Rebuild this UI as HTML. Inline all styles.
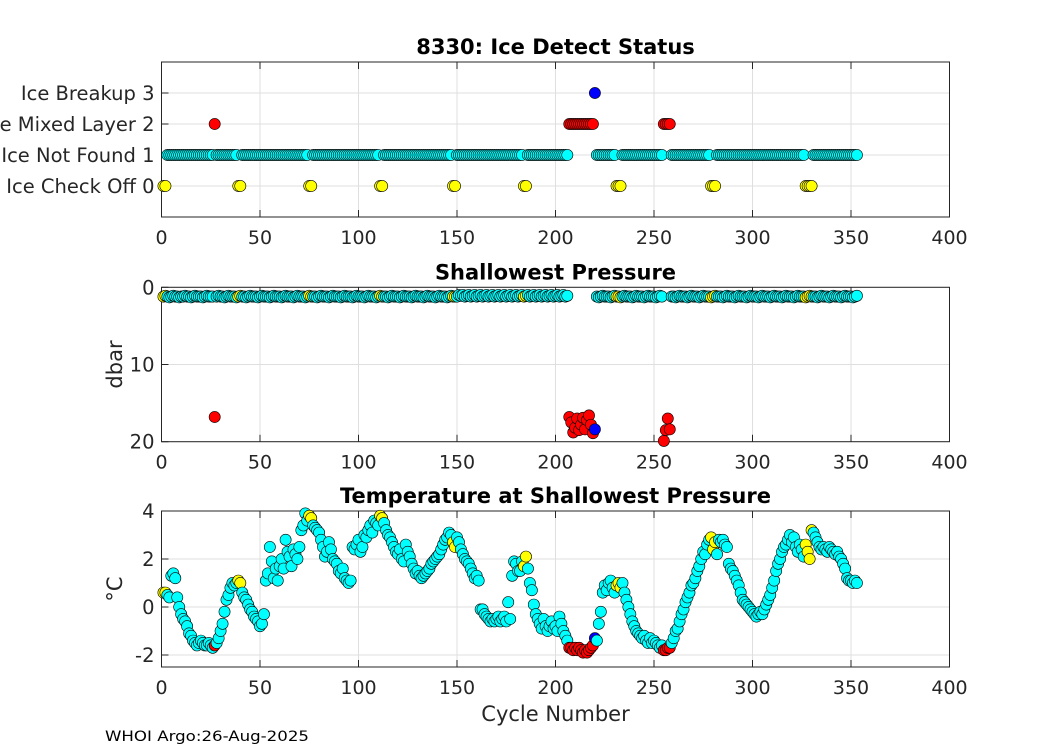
<!DOCTYPE html>
<html><head><meta charset="utf-8"><style>
body{margin:0;background:#fff;}
svg{display:block;font-family:"DejaVu Sans","Liberation Sans",sans-serif;}
</style></head><body>
<svg id="fig" width="1050" height="750" viewBox="0 0 1050 750"></svg>
<script>
const temps=[0.6,0.6,0.5,0.4,1.3,1.4,1.2,0.4,0.0,-0.3,
-0.5,-0.6,-0.8,-1.1,-1.2,-1.4,-1.5,-1.6,-1.5,-1.4,
-1.5,-1.6,-1.6,-1.5,-1.6,-1.7,-1.6,-1.5,-1.3,-1.0,
-0.7,-0.2,0.3,0.5,0.8,1.0,0.9,1.0,1.1,1.0,
0.6,0.4,0.3,0.1,-0.1,-0.2,-0.4,-0.5,-0.6,-0.8,
-0.7,-0.3,1.1,1.4,2.5,1.9,1.2,1.6,1.1,1.7,
2.0,1.6,2.8,2.3,2.1,1.7,2.4,2.2,2.0,2.5,
3.2,3.4,3.9,3.6,3.8,3.7,3.4,3.3,3.2,3.1,
2.8,2.5,2.1,2.3,2.7,2.4,2.0,1.9,1.8,1.5,
1.4,1.6,1.2,1.1,1.0,1.1,2.5,2.4,2.6,2.8,
2.3,2.5,3.0,2.9,3.2,3.4,3.1,3.6,3.5,3.4,
3.8,3.7,3.5,3.2,3.0,2.9,2.7,2.5,2.3,2.2,
2.4,2.0,1.9,2.6,2.3,2.1,1.8,1.6,1.4,1.5,
1.3,1.2,1.3,1.4,1.5,1.6,1.8,1.9,2.0,2.1,
2.2,2.4,2.6,2.8,2.9,3.1,3.0,2.7,2.5,2.9,
2.7,2.4,2.2,2.0,1.9,1.8,1.6,1.4,1.2,1.3,
1.1,-0.1,-0.1,-0.3,-0.4,-0.5,-0.6,-0.5,-0.6,-0.5,
-0.4,-0.6,-0.5,-0.4,-0.6,0.2,-0.5,1.3,1.9,1.8,
1.5,1.5,1.9,1.7,2.1,1.6,1.0,0.7,0.1,-0.3,
-0.5,-0.7,-0.9,-0.5,-0.8,-1.0,-0.8,-0.6,-0.9,-0.8,
-1.0,-0.4,-0.7,-1.0,-1.2,-1.4,-1.7,-1.7,-1.8,-1.7,
-1.8,-1.7,-1.8,-1.9,-1.8,-1.9,-1.8,-1.7,-1.6,-1.3,
-1.4,-0.7,-0.2,0.6,0.9,0.7,1.0,1.1,0.8,0.6,
0.9,1.0,0.8,1.0,0.6,0.3,0.0,-0.3,-0.6,-0.8,
-1.0,-1.1,-1.2,-1.3,-1.2,-1.4,-1.5,-1.3,-1.5,-1.4,
-1.5,-1.6,-1.7,-1.6,-1.8,-1.8,-1.7,-1.7,-1.5,-1.3,
-1.0,-0.9,-0.6,-0.3,-0.1,0.2,0.4,0.6,0.9,1.0,
1.2,1.5,1.7,2.0,2.3,2.2,2.6,2.8,2.9,2.4,
2.7,2.2,2.8,2.7,2.8,2.6,2.5,1.8,1.6,1.5,
1.3,1.1,0.9,0.6,0.3,0.2,0.1,0.0,-0.1,-0.2,
-0.3,-0.4,-0.3,-0.2,-0.3,-0.1,0.1,0.3,0.5,0.8,
1.1,1.5,1.8,2.0,2.3,2.5,2.6,2.8,3.0,2.7,
2.9,2.5,2.3,2.6,2.4,2.1,2.6,2.3,2.0,3.2,
3.1,2.9,2.7,2.5,2.4,2.5,2.4,2.3,2.5,2.4,
2.3,2.2,2.3,2.1,2.0,1.8,1.6,1.2,1.1,1.1,
1.0,1.1,1.0];
const pres=[1.2,1.1,1.2,1.3,1.2,1.1,1.2,1.2,1.3,1.2,
1.2,1.1,1.2,1.2,1.3,1.2,1.1,1.2,1.2,1.2,
1.3,1.2,1.1,1.2,1.2,1.2,16.8,1.2,1.1,1.2,
1.2,1.3,1.2,1.1,1.2,1.2,1.2,1.3,1.2,1.1,
1.2,1.2,1.3,1.2,1.1,1.2,1.2,1.2,1.3,1.2,
1.1,1.2,1.2,1.2,1.3,1.2,1.1,1.2,1.2,1.2,
1.3,1.2,1.1,1.2,1.2,1.2,1.3,1.2,1.1,1.2,
1.2,1.2,1.3,1.2,1.1,1.2,1.2,1.2,1.3,1.2,
1.1,1.2,1.2,1.2,1.3,1.2,1.1,1.2,1.2,1.2,
1.3,1.2,1.1,1.2,1.2,1.2,1.3,1.2,1.1,1.2,
1.2,1.2,1.3,1.2,1.1,1.2,1.2,1.2,1.3,1.2,
1.1,1.2,1.2,1.2,1.3,1.2,1.1,1.2,1.2,1.2,
1.3,1.2,1.1,1.2,1.2,1.2,1.3,1.2,1.1,1.2,
1.2,1.2,1.3,1.2,1.1,1.2,1.2,1.2,1.3,1.2,
1.1,1.2,1.2,1.2,1.3,1.2,1.1,1.2,1.2,1.2,
1.0,1.1,1.0,1.2,1.1,1.0,1.2,1.1,1.0,1.2,
1.1,1.0,1.2,1.1,1.0,1.2,1.1,1.0,1.2,1.1,
1.0,1.2,1.1,1.0,1.2,1.1,1.0,1.2,1.1,1.0,
1.2,1.1,1.0,1.2,1.1,1.0,1.2,1.1,1.0,1.2,
1.1,1.0,1.2,1.1,1.0,1.2,1.1,1.0,1.2,1.1,
1.0,1.2,1.1,1.0,1.2,1.1,16.8,17.5,18.8,18.2,
17.0,18.5,17.8,16.9,18.4,17.2,16.6,17.8,18.9,18.4,
1.2,1.3,1.2,1.1,1.2,1.2,1.2,1.3,1.2,1.1,
1.2,1.2,1.3,1.2,1.1,1.2,1.2,1.2,1.3,1.2,
1.1,1.2,1.2,1.2,1.3,1.2,1.1,1.2,1.2,1.2,
1.3,1.2,1.1,1.2,19.9,18.5,17.0,18.4,1.2,1.2,
1.3,1.2,1.1,1.2,1.2,1.2,1.3,1.2,1.1,1.2,
1.2,1.2,1.3,1.2,1.1,1.2,1.2,1.2,1.3,1.2,
1.1,1.2,1.2,1.2,1.3,1.2,1.1,1.2,1.2,1.2,
1.3,1.2,1.1,1.2,1.2,1.2,1.3,1.2,1.1,1.2,
1.2,1.2,1.3,1.2,1.1,1.2,1.2,1.2,1.3,1.2,
1.1,1.2,1.2,1.2,1.3,1.2,1.1,1.2,1.2,1.2,
1.3,1.2,1.1,1.2,1.2,1.2,1.3,1.2,1.1,1.2,
1.2,1.2,1.3,1.2,1.1,1.2,1.2,1.2,1.3,1.2,
1.1,1.2,1.2,1.2,1.3,1.2,1.1,1.2,1.2,1.2,
1.3,1.2,1.1];
const yellowIdx=[0,1,38,39,74,75,110,111,147,148,183,184,230,231,232,278,279,280,326,327,328,329];
const redIdx=[26,206,207,208,209,210,211,212,213,214,215,216,217,218,254,255,256,257];
const blueIdx=[219];
const xTicks=[0,50,100,150,200,250,300,350,400];
const statusTicks=[0,1,2,3];
const statusLabels=["Ice Check Off 0","Ice Not Found 1","Ice Mixed Layer 2","Ice Breakup 3"];
const presTicks=[0,10,20];
const tempTicks=[-2,0,2,4];

const NS="http://www.w3.org/2000/svg";
const svg=document.getElementById('fig');
function mk(tag,attrs,parent,text){const e=document.createElementNS(NS,tag);for(const k in attrs)e.setAttribute(k,attrs[k]);if(text!==undefined)e.textContent=text;(parent||svg).appendChild(e);return e;}
const X0=161.5,X1=949.5;
const xs=c=>X0+(c/400)*(X1-X0);
function makeAxis(name,top,bot,ymin,ymax,rev,ticks,labels,title,ylab){
  const g=mk('g',{});
  
  
  const ys=v=>rev? top+(v-ymin)/(ymax-ymin)*(bot-top) : bot-(v-ymin)/(ymax-ymin)*(bot-top);
  mk('rect',{x:X0,y:top,width:X1-X0,height:bot-top,fill:'#fff'},g);
  xTicks.forEach(t=>{
    mk('line',{x1:xs(t),x2:xs(t),y1:top,y2:bot,stroke:'#dfdfdf','stroke-width':1},g);
    const tl=mk('text',{x:xs(t),y:bot+27,'font-size':19,fill:'#262626','text-anchor':'middle'},g,String(t));
    
    
  });
  ticks.forEach((t,i)=>{
    mk('line',{x1:X0,x2:X1,y1:ys(t),y2:ys(t),stroke:'#dfdfdf','stroke-width':1},g);
    mk('line',{x1:X0,x2:X0+7,y1:ys(t),y2:ys(t),stroke:'#262626','stroke-width':1},g);
    const tl=mk('text',{x:X0-7,y:ys(t)+7,'font-size':19.5,fill:'#262626','text-anchor':'end'},g,labels?labels[i]:String(t));
    
    
  });
  xTicks.forEach(t=>{mk('line',{x1:xs(t),x2:xs(t),y1:bot,y2:bot-7,stroke:'#262626'},g);mk('line',{x1:xs(t),x2:xs(t),y1:top,y2:top+7,stroke:'#262626'},g);});
  mk('rect',{x:X0,y:top,width:X1-X0,height:bot-top,fill:'none',stroke:'#262626','stroke-width':1},g);
  const tt=mk('text',{x:(X0+X1)/2,y:top-8,'font-size':21,'font-weight':'bold','text-anchor':'middle',fill:'#000'},g,title);
  
  
  if(ylab){const yl=mk('text',{x:0,y:0,'font-size':21,fill:'#262626','text-anchor':'middle',transform:`translate(122,${(top+bot)/2}) rotate(-90)`},g,ylab);
    
    }
  return {g,ys};
}
const A1=makeAxis('status-axes',62,217,-1,4,false,statusTicks,statusLabels,'8330: Ice Detect Status',null);
const A2=makeAxis('pressure-axes',287.3,441.7,0,20,true,presTicks,null,'Shallowest Pressure','dbar');
const A3=makeAxis('temperature-axes',511,667,-2.5,4,false,tempTicks,null,'Temperature at Shallowest Pressure','°C');

function colorOf(i){if(redIdx.includes(i))return '#ff0000';if(blueIdx.includes(i))return '#0000ff';if(yellowIdx.includes(i))return '#ffff00';return '#00ffff';}
function statusOf(i){if(redIdx.includes(i))return 2;if(blueIdx.includes(i))return 3;if(yellowIdx.includes(i))return 0;return 1;}
const gs=[A1,A2,A3].map(a=>mk('g',{},a.g));
for(let i=0;i<temps.length;i++){
  const c=i+1,col=colorOf(i);
  const x=xs(c);
  const vals=[statusOf(i),pres[i],temps[i]];
  [A1,A2,A3].forEach((a,k)=>{
    const p=mk('circle',{cx:x,cy:a.ys(vals[k]),r:5.6,fill:col,stroke:'#000','stroke-width':0.6},gs[k]);
    
    
  });
}
const xl=mk('text',{x:(X0+X1)/2,y:721,'font-size':21,fill:'#262626','text-anchor':'middle'},svg,'Cycle Number');


const ft=mk('text',{x:105,y:741,'font-size':14,fill:'#000',textLength:204,lengthAdjust:'spacingAndGlyphs'},svg,'WHOI Argo:26-Aug-2025');


</script>
</body></html>
